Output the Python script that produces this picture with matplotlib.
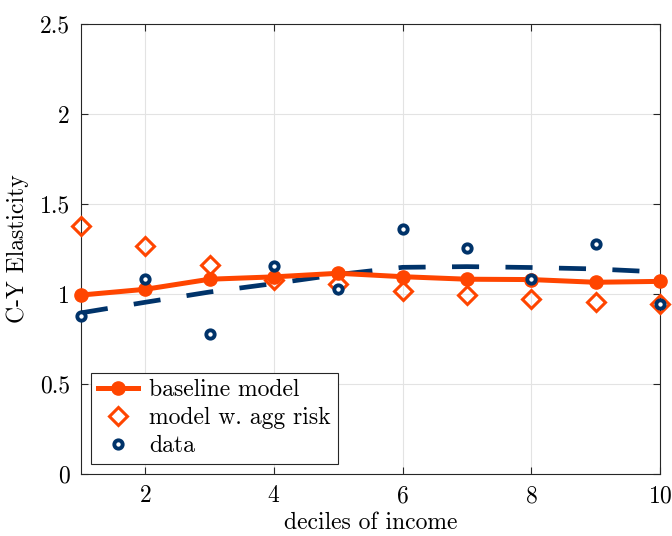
import matplotlib
matplotlib.use("Agg")
import matplotlib.pyplot as plt

plt.rcParams['font.family'] = 'serif'
plt.rcParams['font.serif'] = ['cmr10', 'DejaVu Serif']
plt.rcParams['mathtext.fontset'] = 'cm'
plt.rcParams['axes.formatter.use_mathtext'] = True
plt.rcParams['lines.scale_dashes'] = False

# deciles of income
deciles = [1, 2, 3, 4, 5, 6, 7, 8, 9, 10]
baseline = [0.994, 1.026, 1.082, 1.095, 1.115, 1.096, 1.082, 1.080, 1.065, 1.070]
agg_risk = [1.378, 1.265, 1.163, 1.080, 1.054, 1.015, 0.992, 0.972, 0.954, 0.944]
data = [0.876, 1.083, 0.776, 1.153, 1.026, 1.361, 1.256, 1.083, 1.279, 0.944]
data_fit = [0.895, 0.954, 1.011, 1.058, 1.108, 1.148, 1.152, 1.147, 1.139, 1.122]

orange = '#FF4500'
navy = '#00336A'
fs = 17

fig = plt.figure(figsize=(6.72, 5.36), dpi=100)
ax = fig.add_axes([0.1205, 0.1157, 0.8615, 0.8396])

ax.plot(deciles, baseline, '-o', color=orange, lw=3.6, ms=9.5,
        label='baseline model', zorder=3, clip_on=False)
ax.plot(deciles, agg_risk, 'D', color=orange, mfc='none', ms=8.7, mew=2.2,
        label='model w. agg risk', zorder=4, clip_on=False)
ax.plot(deciles, data, 'o', color=navy, mfc='white', ms=6, mew=2.8,
        label='data', zorder=5, clip_on=False)
ax.plot(deciles, data_fit, color=navy, lw=3.4, linestyle=(0, (19.5, 19)),
        zorder=2)

ax.set_xlim(1, 10)
ax.set_ylim(0, 2.5)
ax.set_xticks([2, 4, 6, 8, 10])
ax.set_yticks([0, 0.5, 1, 1.5, 2, 2.5])
ax.set_yticklabels(['0', '0.5', '1', '1.5', '2', '2.5'])
ax.grid(True, color='#e3e3e3', lw=0.8)
ax.set_axisbelow(True)
ax.tick_params(direction='in', length=5, width=0.8, color='#262626',
               labelsize=fs, top=True, right=True, pad=8)
for s in ax.spines.values():
    s.set_color('#262626')
    s.set_linewidth(0.8)

ax.set_xlabel('deciles of income', fontsize=fs, labelpad=3)
ax.set_ylabel('C-Y Elasticity', fontsize=fs, labelpad=8)

leg = ax.legend(loc='lower left', fontsize=fs, fancybox=False,
                edgecolor='#262626', framealpha=1, handlelength=1.7,
                labelspacing=0.25, borderaxespad=0.42, borderpad=0.28,
                handletextpad=0.5)
leg.get_frame().set_linewidth(0.8)

fig.savefig('out.png', dpi=100)
